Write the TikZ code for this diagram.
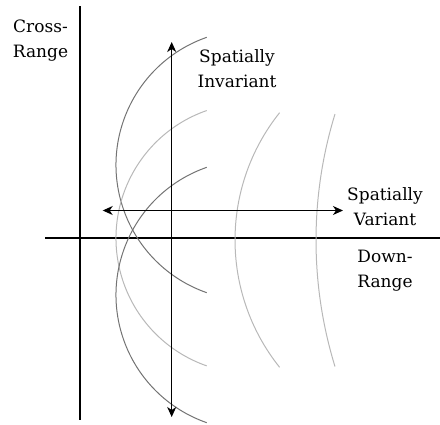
\documentclass[tikz,border=0pt]{standalone}
\usepackage{fontspec}
\setmainfont{DejaVu Serif}
\usetikzlibrary{arrows.meta}
\begin{document}
\begin{tikzpicture}[x=1pt,y=1pt,
  axis/.style={line width=2pt,black},
  dbl/.style={line width=1.3pt,{Stealth[length=10pt,width=9pt,inset=3pt]}-{Stealth[length=10pt,width=9pt,inset=3pt]}},
  darkc/.style={line width=1pt,draw=black!55},
  lightc/.style={line width=1pt,draw=black!28},
  lbl/.style={font=\fontsize{17}{25}\selectfont,align=center,inner sep=0pt,anchor=north}]
\useasboundingbox (0,0) rectangle (440,-424);
% axes
\coordinate (vtop) at (80,-6);
\coordinate (vbot) at (80,-420);
\coordinate (hl) at (45,-237.7);
\coordinate (hr) at (440,-237.7);
\draw[axis] (vtop) -- (vbot);
\draw[axis] (hl) -- (hr);
% curves (left family)
\draw[darkc] (251.2,-165) ++(109.2:135.2) arc[start angle=109.2,end angle=250.8,radius=135.2];
\draw[lightc] (251.2,-238.2) ++(109.2:135.2) arc[start angle=109.2,end angle=250.8,radius=135.2];
\draw[darkc] (251.2,-295) ++(109.2:135.2) arc[start angle=109.2,end angle=250.8,radius=135.2];
% curves (right family)
\draw[lightc] (439,-240) ++(141.4:204) arc[start angle=141.4,end angle=218.6,radius=204];
\draw[lightc] (745.3,-240.3) ++(162.9:429.3) arc[start angle=162.9,end angle=197.1,radius=429.3];
% arrows
\coordinate (itop) at (171.7,-42);
\coordinate (ibot) at (171.7,-417);
\coordinate (vl) at (102.7,-210.5);
\coordinate (vr) at (343,-210.5);
\draw[dbl] (ibot) -- (itop);
\draw[dbl] (vl) -- (vr);
% labels
\node[lbl] (cross) at (40.5,-19.5) {Cross-\\Range};
\node[lbl] (inv) at (237,-49) {Spatially\\Invariant};
\node[lbl] (var) at (385,-187) {Spatially\\Variant};
\node[lbl] (down) at (385,-250) {Down-\\Range};
\end{tikzpicture}
\end{document}
